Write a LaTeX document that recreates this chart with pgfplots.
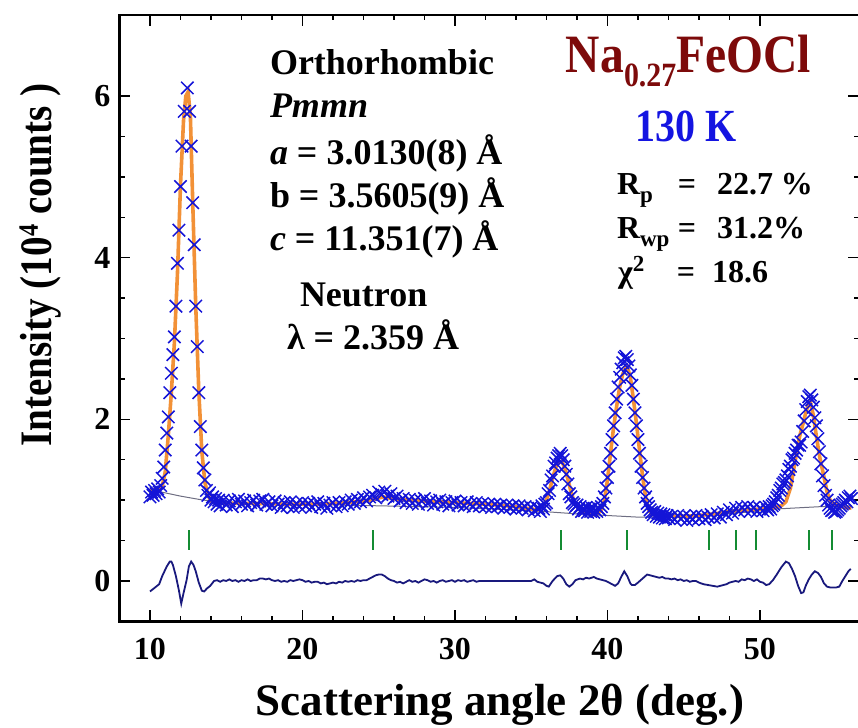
\documentclass[border=0pt]{standalone}
\usepackage{pgfplots}
\pgfplotsset{compat=1.18}
\usepackage{pgfplotstable}
\usepackage{fontspec}
\setmainfont{Liberation Serif}
\usepackage{graphicx}
\definecolor{obscol}{RGB}{20,20,215}
\definecolor{calccol}{RGB}{242,145,55}
\definecolor{bgcol}{RGB}{110,110,130}
\definecolor{diffcol}{RGB}{25,25,125}
\definecolor{braggcol}{RGB}{20,140,50}
\definecolor{titlered}{RGB}{125,10,10}
\definecolor{kblue}{RGB}{20,20,225}

\pgfplotstableread{
x y
10.0 1.04
10.1 1.10
10.2 1.06
10.3 1.12
10.4 1.08
10.5 1.14
10.6 1.10
10.7 1.18
10.8 1.27
10.9 1.41
11.0 1.62
11.1 1.83
11.2 2.03
11.3 2.33
11.4 2.57
11.5 2.80
11.6 3.02
11.7 3.40
11.8 3.93
11.9 4.34
12.0 4.88
12.1 5.38
12.25 5.81
12.45 6.10
12.6 5.81
12.7 5.38
12.8 4.68
12.9 4.16
13.0 3.40
13.1 2.90
13.2 2.33
13.3 1.91
13.4 1.62
13.5 1.40
13.6 1.25
13.7 1.12
13.8 1.06
13.9 1.09
14.0 1.00
14.1 1.04
14.2 0.98
14.3 1.02
14.4 0.95
14.5 1.00
14.6 0.93
14.8 1.00
15.0 0.94
15.2 0.99
15.4 0.92
15.6 0.98
15.8 1.01
16.0 0.95
16.2 0.99
16.4 0.93
16.6 0.97
16.8 1.00
17.0 0.94
17.2 0.99
17.4 1.01
17.6 0.95
17.8 0.98
18.0 0.93
18.2 0.99
18.4 0.95
18.6 0.91
18.8 0.97
19.0 0.93
19.2 0.98
19.4 0.91
19.6 0.96
19.8 0.92
20.0 0.97
20.2 0.93
20.4 0.96
20.6 0.91
20.8 0.95
21.0 0.98
21.2 0.92
21.4 0.96
21.6 0.90
21.8 0.94
22.0 0.97
22.2 0.92
22.4 0.97
22.6 0.93
22.8 0.98
23.0 0.95
23.2 1.00
23.4 0.96
23.6 1.01
23.8 0.98
24.0 1.03
24.2 0.99
24.4 1.04
24.6 1.06
24.8 1.03
25.0 1.10
25.2 1.07
25.4 1.11
25.6 1.05
25.8 1.08
26.0 1.02
26.2 1.05
26.4 0.99
26.6 1.02
26.8 0.97
27.0 1.01
27.2 0.96
27.4 1.00
27.6 0.95
27.8 0.99
28.0 1.02
28.2 0.96
28.4 0.99
28.6 0.94
28.8 0.98
29.0 1.00
29.2 0.95
29.4 0.98
29.6 0.93
29.8 0.97
30.0 0.99
30.2 0.94
30.4 0.97
30.6 0.93
30.8 0.98
31.0 0.95
31.2 0.92
31.4 0.97
31.6 0.93
31.8 0.96
32.0 0.92
32.2 0.95
32.4 0.91
32.6 0.95
32.8 0.92
33.0 0.94
33.2 0.90
33.4 0.94
33.6 0.91
33.8 0.93
34.0 0.89
34.2 0.93
34.4 0.90
34.6 0.92
34.8 0.88
35.0 0.91
35.2 0.87
35.4 0.90
35.5 0.90
35.6 0.86
35.7 0.93
35.8 0.89
35.9 0.95
36.0 0.97
36.1 1.08
36.2 1.12
36.3 1.25
36.4 1.30
36.5 1.42
36.6 1.46
36.7 1.52
36.8 1.55
36.9 1.58
37.0 1.55
37.1 1.50
37.2 1.42
37.3 1.32
37.4 1.20
37.5 1.08
37.6 1.04
37.7 0.97
37.8 0.95
37.9 0.92
38.0 0.94
38.1 0.89
38.2 0.92
38.3 0.86
38.4 0.90
38.5 0.87
38.6 0.91
38.7 0.85
38.8 0.89
38.9 0.86
39.0 0.90
39.1 0.85
39.2 0.88
39.3 0.86
39.4 0.90
39.5 0.88
39.6 0.92
39.7 0.96
39.8 1.04
39.9 1.15
40.0 1.28
40.1 1.42
40.2 1.58
40.3 1.75
40.4 1.92
40.5 2.08
40.6 2.25
40.7 2.40
40.8 2.52
40.9 2.62
41.0 2.70
41.1 2.76
41.2 2.78
41.3 2.74
41.4 2.66
41.5 2.55
41.6 2.42
41.7 2.25
41.8 2.08
41.9 1.92
42.0 1.75
42.1 1.58
42.2 1.42
42.3 1.28
42.4 1.15
42.5 1.04
42.6 0.96
42.7 0.92
42.8 0.88
42.9 0.85
43.0 0.82
43.1 0.86
43.2 0.80
43.3 0.84
43.4 0.79
43.5 0.83
43.6 0.78
43.7 0.82
43.8 0.77
43.9 0.81
44.0 0.78
44.2 0.80
44.4 0.76
44.6 0.81
44.8 0.77
45.0 0.80
45.2 0.75
45.4 0.79
45.6 0.76
45.8 0.81
46.0 0.77
46.2 0.80
46.4 0.76
46.6 0.79
46.8 0.82
47.0 0.78
47.2 0.83
47.4 0.79
47.6 0.85
47.8 0.82
48.0 0.88
48.2 0.84
48.4 0.90
48.6 0.86
48.8 0.91
49.0 0.88
49.2 0.92
49.4 0.87
49.6 0.91
49.8 0.86
50.0 0.90
50.2 0.87
50.4 0.91
50.5 0.88
50.6 0.92
50.7 0.89
50.8 0.93
50.9 0.95
51.0 0.98
51.1 1.03
51.2 1.06
51.3 1.12
51.4 1.15
51.5 1.20
51.6 1.22
51.7 1.25
51.8 1.30
51.9 1.38
52.0 1.42
52.1 1.50
52.2 1.52
52.3 1.58
52.4 1.62
52.5 1.68
52.6 1.68
52.7 1.72
52.8 1.85
52.9 1.98
53.0 2.12
53.1 2.22
53.2 2.28
53.3 2.30
53.4 2.24
53.5 2.15
53.6 2.02
53.7 1.92
53.8 1.76
53.9 1.60
54.0 1.45
54.1 1.30
54.2 1.18
54.3 1.06
54.4 1.00
54.5 0.94
54.6 0.90
54.7 0.87
54.8 0.88
54.9 0.85
55.0 0.86
55.1 0.88
55.2 0.90
55.3 0.93
55.4 0.95
55.5 0.97
55.6 1.00
55.7 0.98
55.8 1.03
55.9 1.05
56.0 1.02
}\obs

\pgfplotstableread{
x y
10.0 1.13
10.5 1.13
10.8 1.17
11.0 1.35
11.2 1.80
11.4 2.33
11.6 2.95
11.8 3.80
12.0 4.90
12.2 5.70
12.35 6.00
12.5 6.05
12.65 5.75
12.8 4.70
13.0 3.40
13.2 2.35
13.4 1.60
13.6 1.22
13.8 1.06
14.0 0.99
14.3 0.97
15.0 0.96
17.0 0.96
19.0 0.95
21.0 0.95
23.0 0.97
24.4 1.00
25.3 1.04
26.2 1.01
28.0 0.99
30.0 0.97
32.0 0.95
34.0 0.92
35.4 0.88
35.8 0.92
36.0 1.00
36.2 1.12
36.4 1.27
36.6 1.40
36.8 1.47
37.0 1.48
37.2 1.40
37.4 1.26
37.6 1.11
37.8 0.99
38.0 0.92
38.2 0.88
38.5 0.85
38.8 0.83
39.1 0.82
39.4 0.84
39.6 0.88
39.8 1.00
40.0 1.25
40.2 1.58
40.4 1.90
40.6 2.16
40.8 2.40
41.0 2.56
41.2 2.64
41.3 2.65
41.5 2.52
41.7 2.25
41.9 1.95
42.1 1.62
42.3 1.30
42.5 1.04
42.7 0.88
42.9 0.83
43.2 0.81
43.6 0.81
44.75 0.80
46.0 0.81
47.0 0.83
48.0 0.86
48.5 0.87
50.0 0.89
51.0 0.91
51.4 0.93
51.7 0.98
52.0 1.15
52.2 1.37
52.4 1.58
52.6 1.79
52.8 1.93
53.0 2.08
53.2 2.20
53.3 2.22
53.5 2.05
53.7 1.79
53.9 1.55
54.15 1.33
54.4 1.10
54.6 1.00
54.9 0.95
55.25 0.92
55.6 0.91
56.0 0.90
}\calc

\pgfplotstableread{
x y
10 1.13
11 1.09
12 1.05
13.5 1.00
16 0.97
20 0.95
25 0.93
30 0.91
35 0.87
38 0.83
42 0.79
45 0.79
48 0.83
51 0.89
54 0.92
56 0.93
}\bg

\pgfplotstableread{
x y
10.0 -0.13
10.2 -0.10
10.4 -0.07
10.6 -0.04
10.8 0.06
10.9 0.10
11.1 0.18
11.3 0.24
11.4 0.24
11.5 0.20
11.7 0.06
11.9 -0.12
12.05 -0.28
12.2 -0.15
12.4 0.01
12.55 0.18
12.7 0.24
12.85 0.20
13.0 0.12
13.2 -0.02
13.4 -0.12
13.55 -0.13
13.75 -0.09
13.95 -0.06
14.2 0.00
14.4 0.01
14.6 -0.01
14.8 0.01
15.0 0.00
15.2 0.02
15.4 0.00
15.6 0.01
15.8 -0.01
16.0 0.01
16.2 0.00
16.4 0.02
16.6 0.00
16.8 0.01
17.0 0.01
17.2 0.03
17.4 0.03
17.6 0.02
17.8 0.03
18.0 0.01
18.2 0.00
18.4 0.01
18.6 -0.01
18.8 0.00
19.0 -0.01
19.2 0.01
19.4 0.00
19.6 0.01
19.8 0.02
20.0 0.01
20.2 -0.01
20.4 0.00
20.6 -0.02
20.8 -0.01
21.0 -0.01
21.2 -0.03
21.4 -0.02
21.6 -0.04
21.8 -0.03
22.0 -0.02
22.2 -0.03
22.4 -0.01
22.6 -0.02
22.8 0.00
23.0 -0.01
23.2 0.00
23.4 -0.01
23.6 0.01
23.8 0.00
24.0 0.01
24.2 0.01
24.4 0.03
24.6 0.05
24.8 0.07
25.0 0.08
25.2 0.08
25.4 0.06
25.6 0.03
25.8 0.01
26.0 0.00
26.2 -0.02
26.4 -0.01
26.6 -0.03
26.8 -0.01
27.0 0.01
27.2 -0.01
27.4 0.00
27.6 -0.02
27.8 0.00
28.0 0.02
28.2 0.01
28.4 -0.01
28.6 0.00
28.8 -0.02
29.0 0.00
29.2 0.01
29.4 -0.01
29.6 0.00
29.8 0.01
30.0 -0.01
30.2 0.01
30.4 0.00
30.6 0.01
30.8 -0.01
31.0 0.00
31.2 0.01
31.4 -0.01
31.6 0.00
35.0 0.00
35.2 0.02
35.4 -0.01
35.6 -0.02
35.8 -0.03
36.0 -0.06
36.15 -0.07
36.4 0.00
36.7 0.06
36.9 0.07
37.1 0.03
37.3 -0.04
37.5 -0.07
37.7 -0.04
37.9 0.01
38.2 0.03
38.4 0.02
38.6 0.04
38.8 0.03
39.1 0.05
39.3 0.03
39.5 0.02
39.7 0.01
39.9 0.00
40.2 -0.03
40.5 -0.06
40.7 -0.03
40.9 0.05
41.1 0.12
41.3 0.06
41.5 -0.03
41.6 -0.05
41.8 -0.05
42.0 -0.02
42.3 0.03
42.6 0.08
42.8 0.07
43.0 0.06
43.2 0.05
43.4 0.04
43.6 0.05
43.8 0.03
44.0 0.03
44.2 0.02
44.4 0.03
44.6 0.01
44.8 0.02
45.0 0.00
45.2 0.01
45.4 -0.01
45.6 0.00
45.8 0.00
46.0 -0.02
46.3 -0.04
46.6 -0.05
46.9 -0.06
47.2 -0.07
47.4 -0.06
47.6 -0.05
47.8 -0.04
48.0 -0.02
48.2 -0.01
48.4 0.00
48.6 -0.01
48.8 0.02
49.0 0.01
49.2 0.03
49.4 0.02
49.6 0.00
49.8 0.02
50.0 -0.01
50.2 -0.02
50.4 -0.05
50.6 -0.04
50.85 0.01
51.1 0.08
51.4 0.17
51.7 0.24
51.9 0.22
52.1 0.15
52.3 0.06
52.5 -0.06
52.7 -0.15
52.85 -0.14
53.0 -0.06
53.2 0.02
53.4 0.08
53.6 0.12
53.8 0.10
54.0 0.05
54.2 -0.03
54.4 -0.07
54.6 -0.08
54.8 -0.08
55.0 -0.08
55.2 -0.07
55.4 0.00
55.6 0.06
55.8 0.12
55.95 0.15
}\diff

\pgfplotstableread{
x y
12.56 0.505
24.62 0.505
36.95 0.505
41.28 0.505
46.66 0.505
48.43 0.505
49.74 0.505
53.21 0.505
54.72 0.505
}\bragg

\begin{document}
\begin{tikzpicture}
\begin{axis}[
  scale only axis,
  width=369.8pt, height=303.1pt,
  xmin=8, xmax=56.5, ymin=-0.5, ymax=7,
  xtick={10,20,30,40,50}, minor x tick num=4,
  ytick={0,2,4,6}, minor y tick num=3,
  tick align=inside,
  major tick length=5.5pt, minor tick length=2.6pt,
  axis line style={line width=1.2pt},
  tick style={line width=0.7pt, black},
  /pgf/number format/assume math mode=true,
  tick label style={font=\fontsize{16}{16}\selectfont\bfseries},
  xticklabel style={yshift=-5pt},
  yticklabel style={xshift=-1pt},
  clip=true,
]
\addplot[bgcol, line width=0.5pt] table {\bg};
\addplot[obscol, only marks, mark=x, mark size=4.4pt, mark options={line width=0.75pt}] table {\obs};
\addplot[calccol, line width=1.8pt] table {\calc};
\addplot[diffcol, line width=0.9pt] table {\diff};
\addplot[braggcol, only marks, mark=|, mark size=5pt, mark options={line width=1.1pt}] table {\bragg};
\coordinate (o) at (rel axis cs:0,0);
\end{axis}
\begin{scope}[shift={(o)}, x=0.5pt, y=-0.5pt, shift={(-119.5,-621.4)}, every node/.style={inner sep=0pt, outer sep=0pt}]
  % axis labels
  \node[anchor=base] at (500,716) {\fontsize{22.5}{22.5}\selectfont\bfseries Scattering angle 2θ (deg.)};
  \node[rotate=90, anchor=base] at (52,265) {\scalebox{0.87}[1]{\fontsize{22.5}{22.5}\selectfont\bfseries Intensity (10\raisebox{7pt}{\fontsize{14}{14}\selectfont 4} counts )}};
  % left block
  \begin{scope}[every node/.append style={anchor=base west, font=\fontsize{18}{18}\selectfont\bfseries}]
    \node at (270,75) {Orthorhombic};
    \node at (270,118) {\itshape Pmmn};
    \node at (270,165) {\textit{a} = 3.0130(8) Å};
    \node at (270,208) {b = 3.5605(9) Å};
    \node at (270,251) {\textit{c} = 11.351(7) Å};
    \node at (300,307) {Neutron};
    \node at (287,350) {λ = 2.359 Å};
  \end{scope}
  % title
  \node[anchor=base east, text=titlered] at (811,73) {\scalebox{0.88}[1]{\fontsize{27}{27}\selectfont\bfseries Na\raisebox{-7pt}{\fontsize{17}{17}\selectfont 0.27}FeOCl}};
  \node[anchor=base, text=kblue] at (686,142) {\scalebox{0.87}[1]{\fontsize{23}{23}\selectfont\bfseries 130 K}};
  % R factors
  \begin{scope}[every node/.append style={font=\fontsize{16}{16}\selectfont\bfseries}]
    \node[anchor=base west] at (617,195) {R\raisebox{-4pt}{\fontsize{11.5}{11.5}\selectfont p}};
    \node[anchor=base] at (687,195) {=};
    \node[anchor=base west] at (717,195) {22.7 \%};
    \node[anchor=base west] at (617,239) {R\raisebox{-4pt}{\fontsize{11.5}{11.5}\selectfont wp}};
    \node[anchor=base] at (687,239) {=};
    \node[anchor=base west] at (717,239) {31.2\%};
    \node[anchor=base west] at (618,283) {χ\raisebox{5.5pt}{\fontsize{11.5}{11.5}\selectfont 2}};
    \node[anchor=base] at (686,283) {=};
    \node[anchor=base west] at (712,283) {18.6};
  \end{scope}
  \pgfresetboundingbox
  \path[use as bounding box] (0,0) rectangle (858,728);
\end{scope}
\end{tikzpicture}
\end{document}
